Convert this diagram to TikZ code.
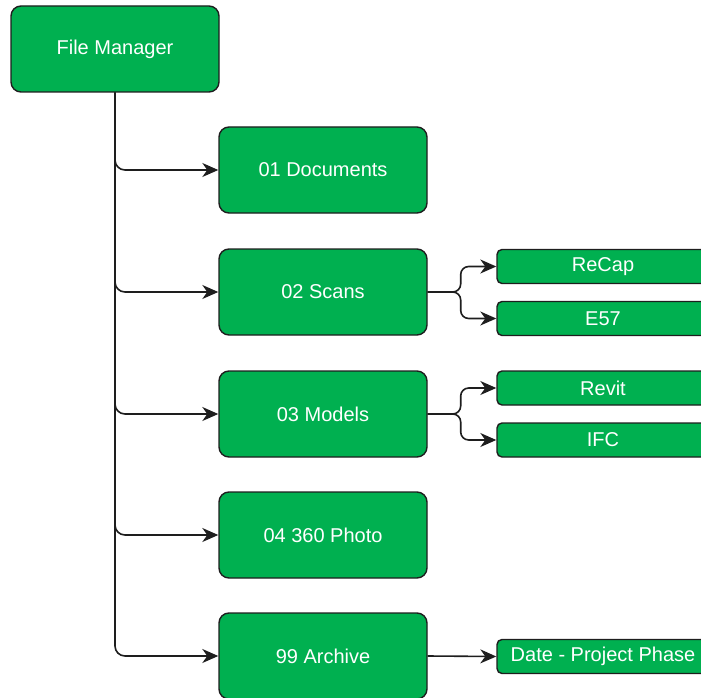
\documentclass[tikz,border=0pt]{standalone}
\usepackage{fontspec}
\setmainfont{Liberation Sans}
\usetikzlibrary{arrows.meta}
\definecolor{boxgreen}{RGB}{0,176,80}
\definecolor{boxline}{RGB}{30,30,30}
\begin{document}
\begin{tikzpicture}[x=1pt,y=-1pt,
  folder/.style={draw=boxline,line width=1.4pt,fill=boxgreen,rounded corners=10pt,
    minimum width=208pt,minimum height=86pt,text=white,font=\fontsize{20}{24}\selectfont},
  sub/.style={draw=boxline,line width=1.4pt,fill=boxgreen,rounded corners=5pt,
    minimum width=212pt,minimum height=34pt,text=white,font=\fontsize{20}{24}\selectfont},
  link/.style={draw=boxline,line width=1.6pt,
    -{Stealth[length=16pt,width=14pt,inset=5pt,sharp]}}]
\useasboundingbox (0,0) rectangle (701,698);
\clip (0,0) rectangle (701,698);
\node[folder] (fm) at (115,49) {File Manager};
\node[folder] (doc) at (323,170) {01 Documents};
\node[folder] (scans) at (323,292) {02 Scans};
\node[folder] (models) at (323,414) {03 Models};
\node[folder] (photo) at (323,535) {04 360 Photo};
\node[folder] (archive) at (323,656) {99 Archive};
\node[sub] (recap) at (603,266.5) {ReCap};
\node[sub] (e57) at (603,318.5) {E57};
\node[sub] (revit) at (603,388) {Revit};
\node[sub] (ifc) at (603,440) {IFC};
\node[sub] (phase) at (603,656.5) {Date - Project Phase};
\draw[link,rounded corners=10pt] (fm.south) |- (doc.west);
\draw[link,rounded corners=10pt] (fm.south) |- (scans.west);
\draw[link,rounded corners=10pt] (fm.south) |- (models.west);
\draw[link,rounded corners=10pt] (fm.south) |- (photo.west);
\draw[link,rounded corners=10pt] (fm.south) |- (archive.west);
\draw[link,rounded corners=8pt] (scans.east) -- ++(33,0) |- (recap.west);
\draw[link,rounded corners=8pt] (scans.east) -- ++(33,0) |- (e57.west);
\draw[link,rounded corners=8pt] (models.east) -- ++(33,0) |- (revit.west);
\draw[link,rounded corners=8pt] (models.east) -- ++(33,0) |- (ifc.west);
\draw[link] (archive.east) -- (phase.west);
\end{tikzpicture}
\end{document}
